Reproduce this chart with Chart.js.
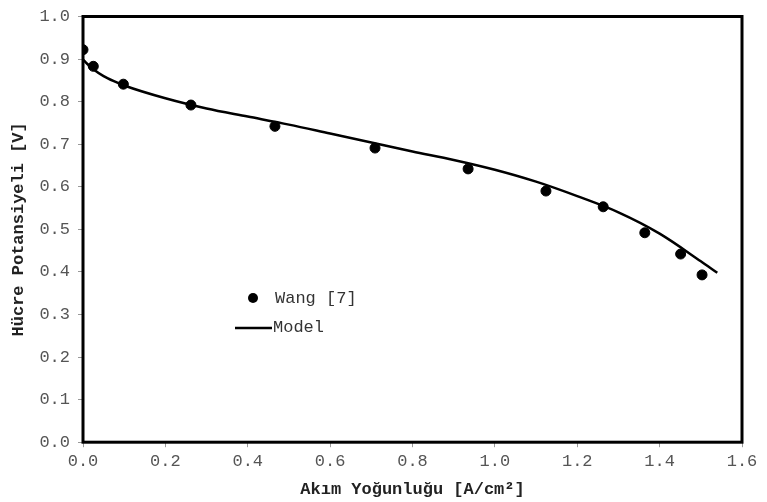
<!DOCTYPE html>
<html>
<head>
<meta charset="utf-8">
<script src="https://cdn.jsdelivr.net/npm/chart.js@4.4.1/dist/chart.umd.min.js"></script>
<style>
  html, body { margin: 0; padding: 0; background: #fff; }
  #wrap { width: 767px; height: 502px; position: relative; }
</style>
</head>
<body>
<div id="wrap"><canvas id="chart"></canvas></div>
<script>
// Measured points (Wang [7])
const wangX = [0.0, 0.025, 0.098, 0.262, 0.466, 0.709, 0.935, 1.124, 1.263, 1.364, 1.451, 1.503];
const wangY = [0.922, 0.883, 0.841, 0.792, 0.742, 0.691, 0.642, 0.590, 0.553, 0.492, 0.442, 0.393];

// Model curve
const modelX = [0.0, 0.01, 0.025, 0.05, 0.075, 0.1, 0.2, 0.3, 0.4, 0.5, 0.6, 0.7, 0.8, 0.9, 1.0, 1.1, 1.2, 1.3, 1.4, 1.5, 1.54];
const modelY = [0.899, 0.889, 0.876, 0.860, 0.848, 0.838, 0.808, 0.784, 0.765, 0.746, 0.725, 0.704, 0.683, 0.663, 0.640, 0.612, 0.578, 0.540, 0.490, 0.425, 0.398];

const xTicks = [0.0, 0.2, 0.4, 0.6, 0.8, 1.0, 1.2, 1.4, 1.6];
const yTicks = [0.0, 0.1, 0.2, 0.3, 0.4, 0.5, 0.6, 0.7, 0.8, 0.9, 1.0];

const FONT = "'Liberation Mono', 'Courier New', monospace";

const toPoints = (xs, ys) => xs.map((x, i) => ({ x: x, y: ys[i] }));

// frame around plot area + legend inside
const framePlugin = {
    id: 'frame',
    afterDatasetsDraw(chart) {
        const { ctx, chartArea: a } = chart;
        ctx.save();
        ctx.strokeStyle = '#000';
        ctx.lineWidth = 3;
        ctx.strokeRect(a.left, a.top, a.right - a.left, a.bottom - a.top);

        // legend
        ctx.fillStyle = '#000';
        ctx.beginPath();
        ctx.arc(253, 298, 5, 0, Math.PI * 2);
        ctx.fill();
        ctx.lineWidth = 2.5;
        ctx.beginPath();
        ctx.moveTo(235, 328);
        ctx.lineTo(272, 328);
        ctx.stroke();
        ctx.font = '17px ' + FONT;
        ctx.textBaseline = 'middle';
        ctx.fillStyle = '#333';
        ctx.fillText('Wang [7]', 275, 298);
        ctx.fillText('Model', 273, 327);
        ctx.restore();
    }
};

new Chart(document.getElementById('chart'), {
    type: 'scatter',
    data: {
        datasets: [{
            label: 'Wang [7]',
            data: toPoints(wangX, wangY),
            backgroundColor: '#000',
            borderColor: '#000',
            pointRadius: 5,
            showLine: false
        }, {
            label: 'Model',
            data: toPoints(modelX, modelY),
            borderColor: '#000',
            borderWidth: 2.5,
            pointRadius: 0,
            showLine: true,
            cubicInterpolationMode: 'monotone'
        }]
    },
    options: {
        responsive: true,
        maintainAspectRatio: false,
        animation: false,
        layout: { padding: { top: 4, right: 25, bottom: 0, left: 9 } },
        plugins: {
            legend: { display: false },
            tooltip: { enabled: false }
        },
        scales: {
            x: {
                type: 'linear',
                min: 0,
                max: 1.6,
                afterBuildTicks: axis => { axis.ticks = xTicks.map(v => ({ value: v })); },
                ticks: {
                    color: '#555',
                    font: { family: FONT, size: 17 },
                    padding: 4,
                    maxRotation: 0,
                    callback: v => v.toFixed(1)
                },
                grid: { drawOnChartArea: false, tickLength: 5, color: '#999' },
                border: { display: false },
                title: {
                    display: true,
                    text: 'Akım Yoğunluğu [A/cm²]',
                    color: '#222',
                    font: { family: FONT, size: 17, weight: 'bold' },
                    padding: { top: 4, bottom: 2 }
                }
            },
            y: {
                type: 'linear',
                min: 0,
                max: 1,
                afterBuildTicks: axis => { axis.ticks = yTicks.map(v => ({ value: v })); },
                ticks: {
                    color: '#555',
                    font: { family: FONT, size: 17, lineHeight: 1 },
                    padding: 8,
                    callback: v => v.toFixed(1)
                },
                grid: { drawOnChartArea: false, tickLength: 5, color: '#999' },
                border: { display: false },
                title: {
                    display: true,
                    text: 'Hücre Potansiyeli [V]',
                    color: '#222',
                    font: { family: FONT, size: 17, weight: 'bold' },
                    padding: { top: 0, bottom: 2 }
                }
            }
        }
    },
    plugins: [framePlugin]
});
</script>
</body>
</html>
